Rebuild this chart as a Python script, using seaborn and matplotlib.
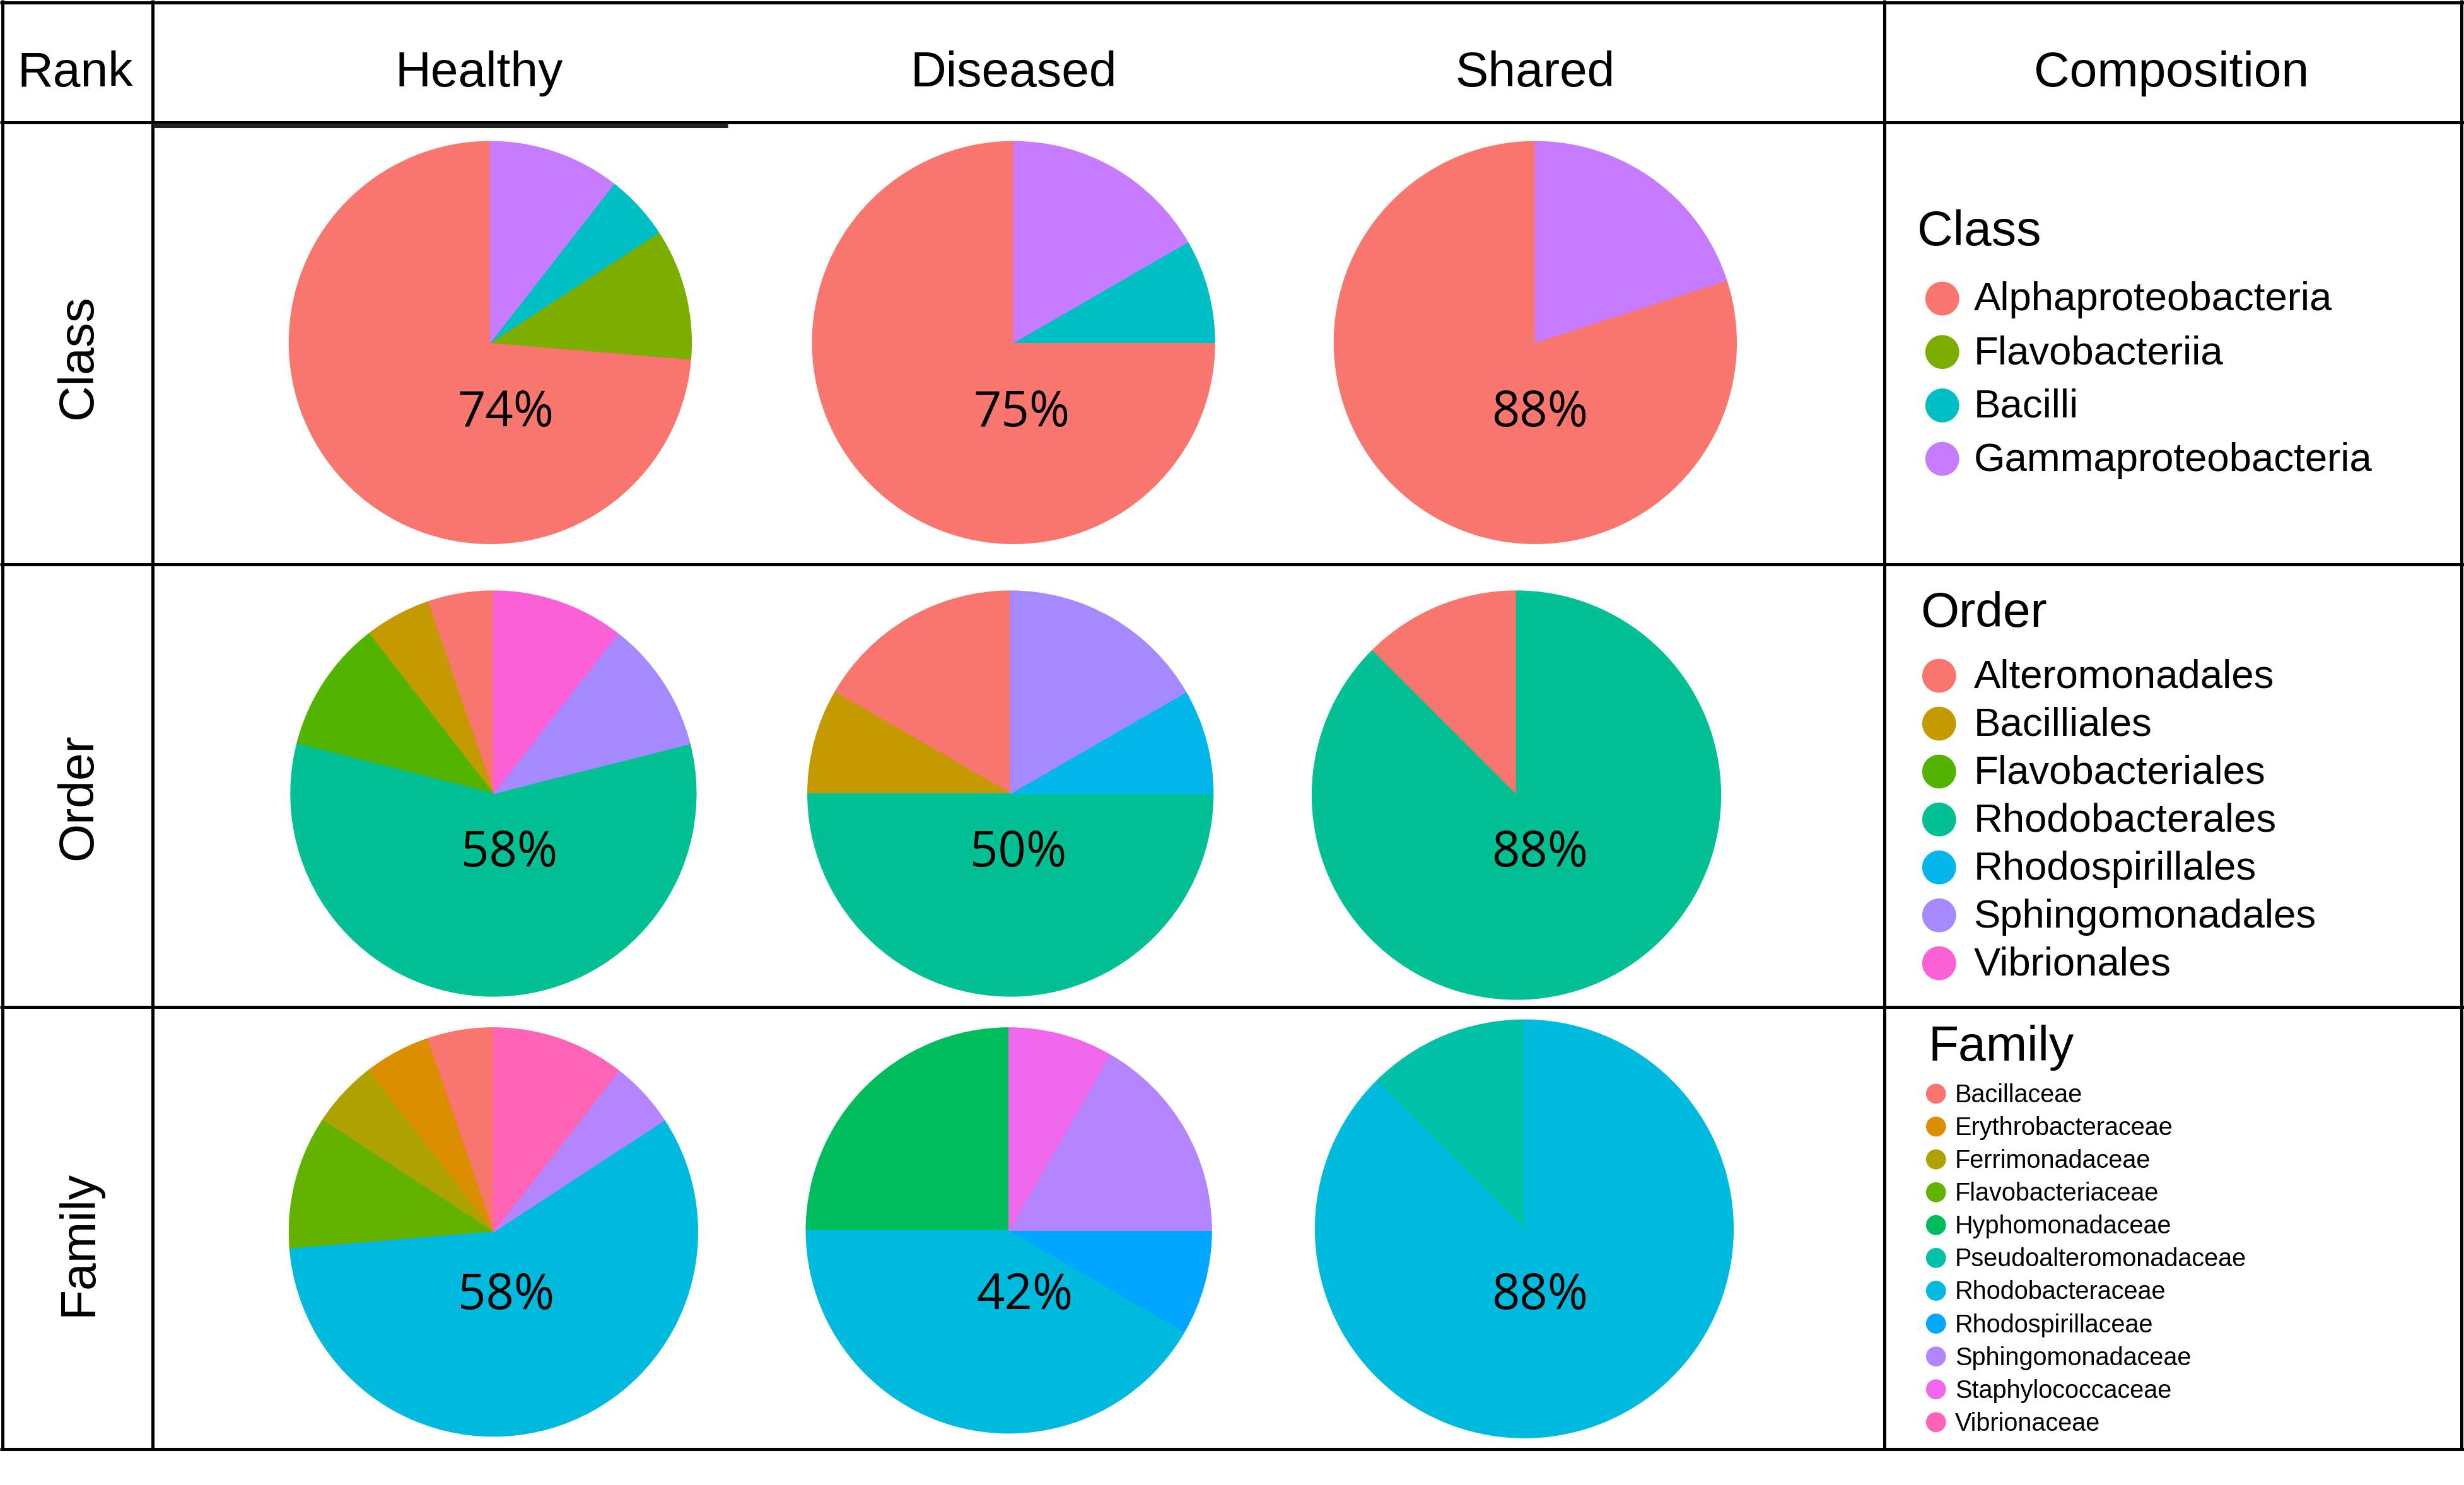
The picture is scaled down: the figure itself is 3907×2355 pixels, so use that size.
import numpy as np
import pandas as pd
import matplotlib
matplotlib.use("Agg")
import matplotlib.pyplot as plt
import seaborn as sns

# ---------------- data ----------------
groups = ["Healthy", "Diseased", "Shared"]
ranks = ["Class", "Order", "Family"]

class_taxa = ["Alphaproteobacteria", "Flavobacteriia", "Bacilli", "Gammaproteobacteria"]
class_healthy = [14, 2, 1, 2]
class_diseased = [9, 0, 1, 2]
class_shared = [4, 0, 0, 1]
class_labels = ["74%", "75%", "88%"]

order_taxa = ["Alteromonadales", "Bacilliales", "Flavobacteriales", "Rhodobacterales",
              "Rhodospirillales", "Sphingomonadales", "Vibrionales"]
order_healthy = [1, 1, 2, 11, 0, 2, 2]
order_diseased = [2, 1, 0, 6, 1, 2, 0]
order_shared = [1, 0, 0, 7, 0, 0, 0]
order_labels = ["58%", "50%", "88%"]

family_taxa = ["Bacillaceae", "Erythrobacteraceae", "Ferrimonadaceae", "Flavobacteriaceae",
               "Hyphomonadaceae", "Pseudoalteromonadaceae", "Rhodobacteraceae",
               "Rhodospirillaceae", "Sphingomonadaceae", "Staphylococcaceae", "Vibrionaceae"]
family_healthy = [1, 1, 1, 2, 0, 0, 11, 0, 1, 0, 2]
family_diseased = [0, 0, 0, 0, 3, 0, 5, 1, 2, 1, 0]
family_shared = [0, 0, 0, 0, 0, 1, 7, 0, 0, 0, 0]
family_labels = ["58%", "42%", "88%"]

# ---------------- styles ----------------
class_colors = ["#F8766D", "#7CAE00", "#00BFC4", "#C77CFF"]
order_colors = ["#F8766D", "#C49A00", "#53B400", "#00C094", "#00B6EB", "#A58AFF", "#FB61D7"]
family_colors = ["#F8766D", "#DB8E00", "#AEA200", "#64B200", "#00BD5C", "#00C1A7",
                 "#00BADE", "#00A6FF", "#B385FF", "#EF67EB", "#FF63B6"]

sns.set_theme(style="white")
plt.rcParams["font.family"] = ["Liberation Sans", "DejaVu Sans"]
plt.rcParams["text.color"] = "black"

W, H = 1568.0, 945.0  # layout units (scaled to output)
fig = plt.figure(figsize=(39.07, 23.55), dpi=100)

rows = [
    (class_taxa, [class_healthy, class_diseased, class_shared], class_labels, class_colors),
    (order_taxa, [order_healthy, order_diseased, order_shared], order_labels, order_colors),
    (family_taxa, [family_healthy, family_diseased, family_shared], family_labels, family_colors),
]

pie_geom = [
    [(312, 218, 128), (645, 218, 128), (977, 218, 128)],
    [(314, 505, 129), (643, 505, 129), (965, 506, 130)],
    [(314, 784, 130), (642, 783, 129), (970, 782, 133)],
]
label_pos = [
    [(322, 263), (650, 263), (980, 263)],
    [(324, 543), (648, 543), (980, 543)],
    [(322, 825), (652, 825), (980, 825)],
]

for ri, (taxa, series, labels, cols) in enumerate(rows):
    for gi, vals in enumerate(series):
        cx, cy, r = pie_geom[ri][gi]
        ax = fig.add_axes([(cx - r) / W, 1 - (cy + r) / H, 2 * r / W, 2 * r / H])
        v = [x for x in vals if x > 0]
        c = [cols[i] for i, x in enumerate(vals) if x > 0]
        wedges, _ = ax.pie(v, colors=c, startangle=90, counterclock=True, radius=1,
                           wedgeprops=dict(linewidth=1.0))
        for w in wedges:
            w.set_edgecolor(w.get_facecolor())
        ax.set_xlim(-1, 1)
        ax.set_ylim(-1, 1)
        ax.set_aspect("equal")
        ax.axis("off")

# overlay for grid, texts, legends
ov = fig.add_axes([0, 0, 1, 1])
ov.set_xlim(0, W)
ov.set_ylim(H, 0)
ov.axis("off")
ov.patch.set_alpha(0)

lw = 3.6
for y in [1.5, 78, 359, 641, 922]:
    ov.plot([0, W], [y, y], color="black", lw=lw, solid_capstyle="butt")
for x in [1.5, 97, 1199, 1566.5]:
    ov.plot([x, x], [0, 922], color="black", lw=lw, solid_capstyle="butt")
ov.plot([97, 463], [80, 80], color="#222222", lw=lw + 1.5, solid_capstyle="butt")

hdr_fs = 56.5
ov.text(48, 55, "Rank", fontsize=hdr_fs, ha="center", va="baseline")
for gx, g in zip([305, 645, 977], groups):
    ov.text(gx, 55, g, fontsize=hdr_fs, ha="center", va="baseline")
ov.text(1382, 55, "Composition", fontsize=hdr_fs, ha="center", va="baseline")

for ry, rk in zip([227, 507, 791], ranks):
    ov.text(50, ry, rk, fontsize=hdr_fs, rotation=90, ha="center", va="center")

# percentage labels
for ri, (taxa, series, labels, cols) in enumerate(rows):
    for gi in range(3):
        lx, ly = label_pos[ri][gi]
        ov.text(lx, ly, labels[gi], fontsize=56, ha="center", va="center",
                family=["Open Sans", "DejaVu Sans"])

# legends
leg_title_pos = [(1220, 156), (1222, 399), (1227, 675)]
leg_start = [190, 430, 696]
leg_step = [34, 30.5, 20.9]
leg_cx = [1236, 1234, 1232]
leg_tx = [1256, 1256, 1244]
leg_fs = [45.7, 45.7, 28.5]
leg_s = [1500, 1500, 520]

for ri, (taxa, series, labels, cols) in enumerate(rows):
    tx, ty = leg_title_pos[ri]
    ov.text(tx, ty, ranks[ri], fontsize=hdr_fs, ha="left", va="baseline")
    ys = [leg_start[ri] + k * leg_step[ri] for k in range(len(taxa))]
    df = pd.DataFrame({"x": [leg_cx[ri]] * len(taxa), "y": ys, "taxon": taxa})
    sns.scatterplot(data=df, x="x", y="y", hue="taxon", hue_order=taxa, palette=cols,
                    s=leg_s[ri], linewidth=0, legend=False, ax=ov, zorder=5)
    for t, y in zip(taxa, ys):
        ov.text(leg_tx[ri], y + 1, t, fontsize=leg_fs[ri], ha="left", va="center")

ov.set_xlim(0, W)
ov.set_ylim(H, 0)
ov.set_xlabel("")
ov.set_ylabel("")
ov.axis("off")

fig.savefig("out.png", dpi=100, facecolor="white")
